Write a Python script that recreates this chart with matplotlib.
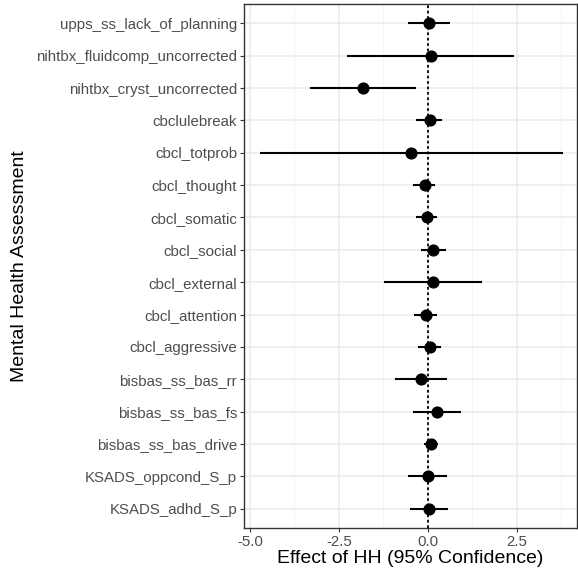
import matplotlib
matplotlib.use("Agg")
import matplotlib.pyplot as plt
import numpy as np

plt.rcParams['font.family'] = ['Liberation Sans', 'DejaVu Sans']

labels = ["upps_ss_lack_of_planning", "nihtbx_fluidcomp_uncorrected", "nihtbx_cryst_uncorrected",
          "cbclulebreak", "cbcl_totprob", "cbcl_thought", "cbcl_somatic", "cbcl_social",
          "cbcl_external", "cbcl_attention", "cbcl_aggressive", "bisbas_ss_bas_rr",
          "bisbas_ss_bas_fs", "bisbas_ss_bas_drive", "KSADS_oppcond_S_p", "KSADS_adhd_S_p"]
estimate = [0.03, 0.09, -1.81, 0.05, -0.46, -0.08, -0.03, 0.16, 0.16, -0.06, 0.05, -0.19, 0.27, 0.08, 0.0, 0.03]
lower = [-0.56, -2.28, -3.32, -0.33, -4.73, -0.41, -0.34, -0.19, -1.23, -0.38, -0.27, -0.92, -0.41, -0.11, -0.55, -0.50]
upper = [0.63, 2.44, -0.33, 0.41, 3.80, 0.21, 0.26, 0.51, 1.54, 0.25, 0.38, 0.55, 0.94, 0.28, 0.53, 0.57]
xticks = [-5.0, -2.5, 0.0, 2.5]
xticklabels = ["-5.0", "-2.5", "0.0", "2.5"]

W, H = 578, 571
fig = plt.figure(figsize=(W/100, H/100), dpi=100)
ax = fig.add_axes([244/W, 1 - 528/H, (577 - 244)/W, (528 - 4)/H])

n = len(labels)
y = np.arange(n)[::-1]

ax.hlines(y, lower, upper, color='black', lw=1.5, zorder=3)
ax.scatter(estimate, y, s=60, color='black', zorder=4)
ax.axvline(0, color='black', ls=(0, (1.5, 1.5)), lw=1.3, zorder=5)

ax.set_xlim(-5.17, 4.2)
ax.set_ylim(-0.6, n - 1 + 0.6)
ax.set_yticks(y)
ax.set_yticklabels(labels)
ax.set_xticks(xticks)
ax.set_xticklabels(xticklabels)
ax.set_xticks([-3.75, -1.25, 1.25, 3.75], minor=True)

ax.grid(True, which='major', color='#EBEBEB', lw=1.1, zorder=0)
ax.grid(True, which='minor', axis='x', color='#F2F2F2', lw=0.6, zorder=0)
ax.set_axisbelow(True)

for s in ax.spines.values():
    s.set_color('#333333')
    s.set_linewidth(1.0)

ax.tick_params(axis='both', which='major', colors='#333333', labelcolor='#4D4D4D',
               labelsize=10.8, length=3, width=0.8, pad=2)
ax.tick_params(axis='x', which='minor', length=0)

ax.set_xlabel("Effect of HH (95% Confidence)", fontsize=14, color='black', labelpad=1)
ax.set_ylabel("Mental Health Assessment", fontsize=14, color='black', labelpad=6)

fig.savefig("out.png", dpi=100)
